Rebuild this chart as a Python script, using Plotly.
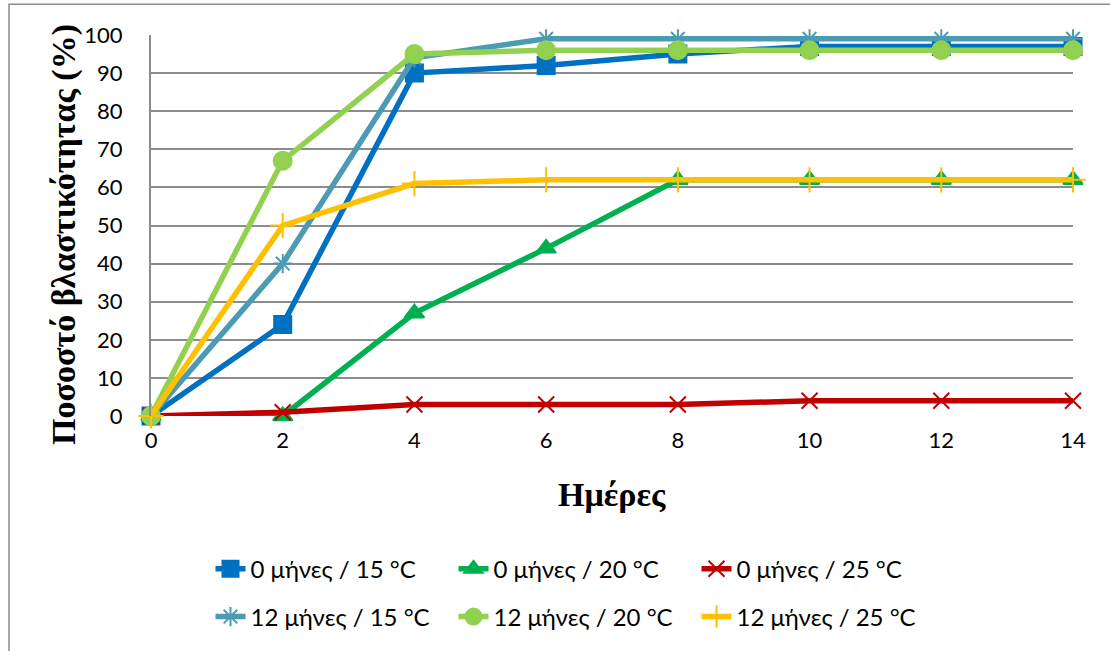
import plotly.graph_objects as go

days = [0, 2, 4, 6, 8, 10, 12, 14]
s_0m_15 = [0, 24, 90, 92, 95, 97, 97, 97]
s_0m_20 = [0, 0, 27, 44, 62, 62, 62, 62]
s_0m_25 = [0, 1, 3, 3, 3, 4, 4, 4]
s_12m_15 = [0, 40, 94, 99, 99, 99, 99, 99]
s_12m_20 = [0, 67, 95, 96, 96, 96, 96, 96]
s_12m_25 = [0, 50, 61, 62, 62, 62, 62, 62]

names = ["0 μήνες / 15 °C", "0 μήνες / 20 °C", "0 μήνες / 25 °C",
         "12 μήνες / 15 °C", "12 μήνες / 20 °C", "12 μήνες / 25 °C"]
series = [s_0m_15, s_0m_20, s_0m_25, s_12m_15, s_12m_20, s_12m_25]
colors = ["#0070C0", "#00B050", "#C00000", "#4A9BB3", "#92D050", "#FFC000"]
symbols = ["square", "triangle-up", "x-thin-open", "asterisk-open", "circle", "cross-thin-open"]
sizes = [17, 17, 16, 16, 18, 18]
legends = ["legend", "legend", "legend", "legend2", "legend2", "legend2"]

fig = go.Figure()
for name, ys, c, sym, sz, lg in zip(names, series, colors, symbols, sizes, legends):
    fig.add_trace(go.Scatter(
        x=days, y=ys, name=name, mode="lines+markers",
        line=dict(color=c, width=5.5),
        marker=dict(symbol=sym, size=sz, color=c, line=dict(color=c, width=2)),
        cliponaxis=False, legend=lg,
    ))

L, R, T, B = 151, 37, 35, 233
W, H = 1110, 651
pw, ph = W - L - R, H - T - B

def px_x(p):
    return (p - L) / pw

def px_y(p):
    return (H - B - p) / ph

tickfont = dict(family="Lato, Noto Sans, sans-serif", size=22, color="#000000")
legfont = dict(family="Lato, Noto Sans, sans-serif", size=24, color="#000000")
fig.update_layout(
    width=W, height=H,
    margin=dict(l=L, r=R, t=T, b=B),
    paper_bgcolor="white", plot_bgcolor="white",
    showlegend=True,
    xaxis=dict(range=[0, 14], tickvals=days, showgrid=False, zeroline=False,
               showline=False, ticks="", tickfont=tickfont, ticklabelstandoff=9),
    yaxis=dict(range=[0, 100], tick0=0, dtick=10, showgrid=True,
               gridcolor="#8C8C8C", gridwidth=2, zeroline=False,
               showline=True, linecolor="#8C8C8C", linewidth=2,
               ticks="", tickfont=tickfont, ticklabelstandoff=22),
    legend=dict(orientation="h", x=px_x(575), y=px_y(572), xanchor="center",
                yanchor="middle", font=legfont, entrywidth=198,
                entrywidthmode="pixels", bgcolor="rgba(0,0,0,0)"),
    legend2=dict(orientation="h", x=px_x(575), y=px_y(620), xanchor="center",
                 yanchor="middle", font=legfont, entrywidth=198,
                 entrywidthmode="pixels", bgcolor="rgba(0,0,0,0)"),
    annotations=[
        dict(text="<b>Ποσοστό βλαστικότητας (%)</b>", x=px_x(64), y=px_y(236),
             xref="paper", yref="paper", xanchor="center", yanchor="middle",
             textangle=-90, showarrow=False,
             font=dict(family="Liberation Serif, serif", size=34, color="#000000")),
        dict(text="<b>Ημέρες</b>", x=px_x(612), y=px_y(497),
             xref="paper", yref="paper", xanchor="center", yanchor="middle",
             showarrow=False,
             font=dict(family="Liberation Serif, serif", size=34, color="#000000")),
    ],
    shapes=[
        dict(type="rect", xref="paper", yref="paper",
             x0=px_x(9), x1=px_x(1120), y0=px_y(660), y1=px_y(4),
             line=dict(color="#8C8C8C", width=1.5), fillcolor="rgba(0,0,0,0)",
             layer="below"),
    ],
)

fig.write_html("out.html")
